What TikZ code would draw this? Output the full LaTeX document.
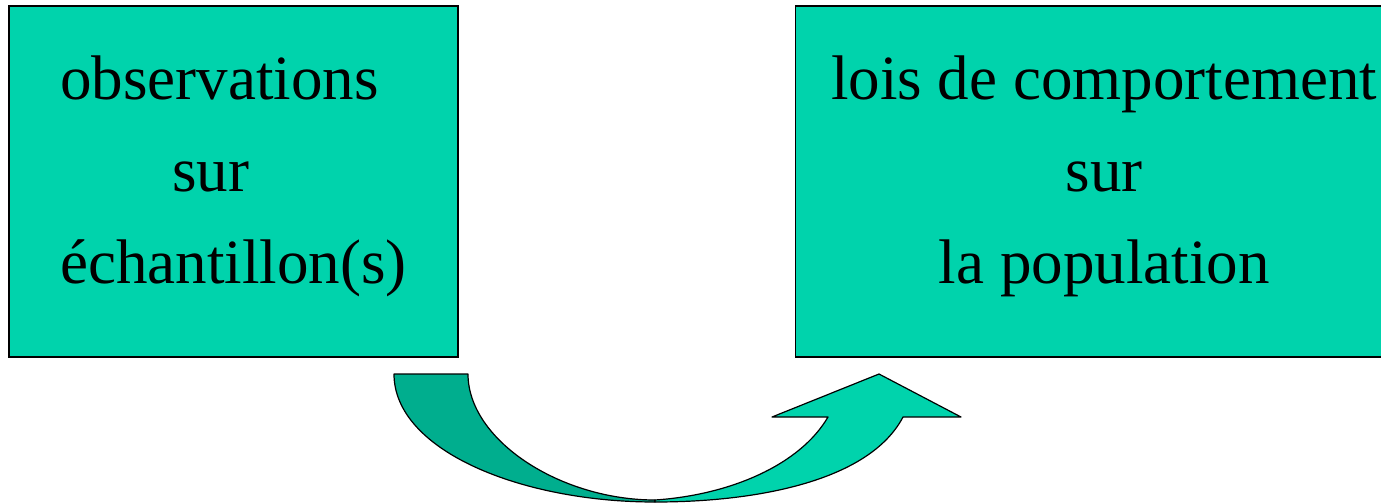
\documentclass[tikz,border=0pt]{standalone}
\usepackage{fontspec}
\setmainfont{Liberation Serif}
\usetikzlibrary{positioning}

\definecolor{boxteal}{RGB}{0,211,172}
\definecolor{darkteal}{RGB}{0,174,142}

% extra depth on the last line lifts the text a little
\newcommand{\lowstrut}{\rule[-24pt]{0pt}{0pt}}

\begin{document}
\begin{tikzpicture}[
    x=1pt, y=-1pt,
    node distance=336pt,
    block/.style={
        rectangle,
        draw=black,
        fill=boxteal,
        inner sep=0pt,
        minimum height=351pt,
        line width=1.1pt,
        font=\fontsize{63}{92}\selectfont
    },
    arrowpart/.style={
        draw=black,
        line width=1.2pt,
        line join=round
    }
]
    \useasboundingbox (0,0) rectangle (1381,503);

    % --- Nodes ---
    \node [block, minimum width=449pt, align=left] (obs) at (233.5,181.5)
        {observations\\\hspace*{112pt}sur\\échantillon(s)\lowstrut};
    % the right box runs past the page edge
    \node [block, minimum width=618pt, align=center, right=of obs] (lois)
        {lois de comportement\\sur\\la population\lowstrut};

    % --- Curved arrow ---
    % left half (darker)
    \path [arrowpart, fill=darkteal] (394,374) -- (468,374)
        .. controls (468,440) and (560,500) .. (655,500)
        -- (655,502)
        .. controls (520,502) and (394,450) .. (394,374) -- cycle;
    % right half with head
    \path [arrowpart, fill=boxteal] (655,500)
        .. controls (730,495) and (800,465) .. (828,417)
        -- (772,417) -- (879,374) -- (961,417) -- (903,417)
        .. controls (870,480) and (760,502) .. (655,502) -- cycle;

\end{tikzpicture}
\end{document}
